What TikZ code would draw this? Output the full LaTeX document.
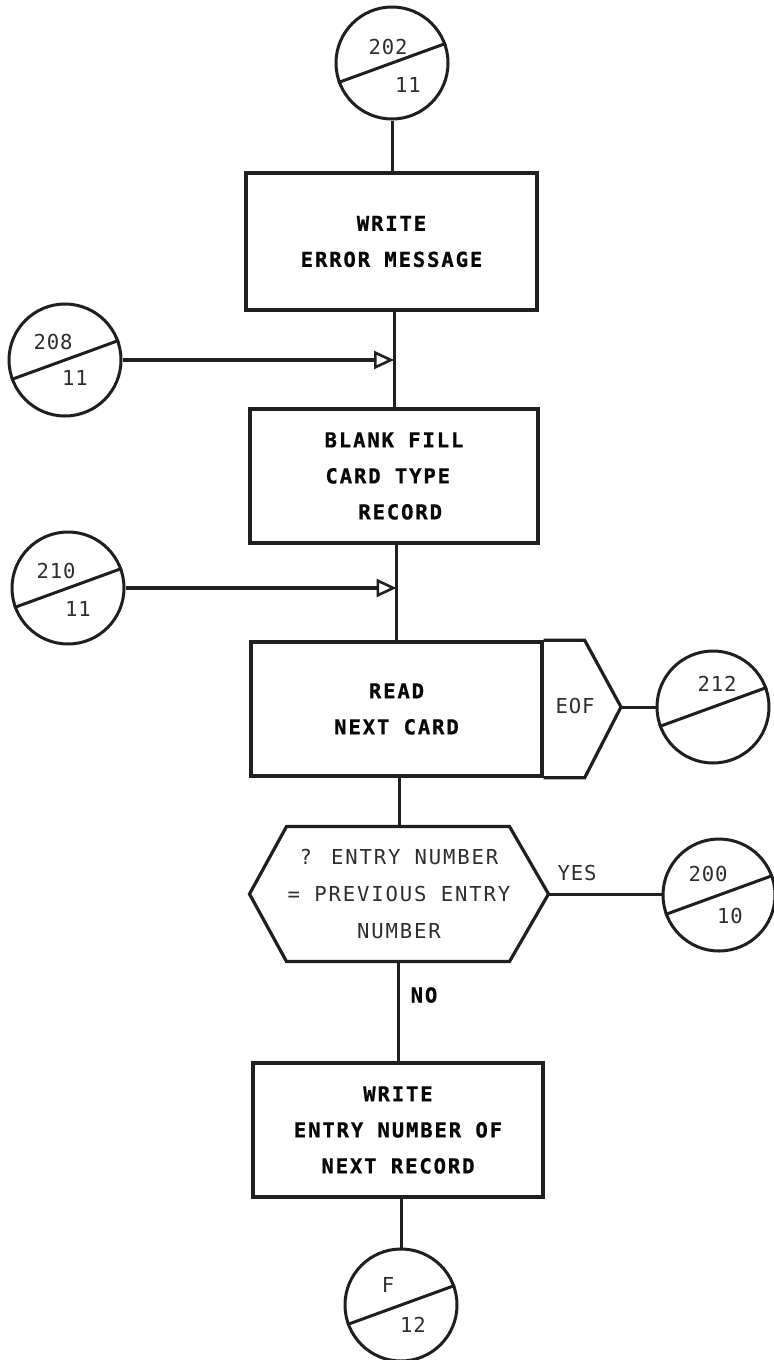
\documentclass[tikz,border=0pt]{standalone}
\usepackage{fontspec}
\usetikzlibrary{arrows.meta,calc}
\newfontfamily\fcmono[LetterSpace=9]{DejaVu Sans Mono}
\newfontfamily\fcbold[LetterSpace=9,FakeBold=0.8]{DejaVu Sans Mono Bold}
\newfontfamily\fcnum[LetterSpace=4]{DejaVu Sans Mono}
\definecolor{ink}{gray}{0.12}
\definecolor{txt}{gray}{0.03}
\definecolor{txtl}{gray}{0.18}
\tikzset{
  procbox/.style={draw=ink, line width=1.7pt, rectangle, inner sep=0pt, align=center, text=txt,
    font={\fcbold\fontsize{10.3pt}{18pt}\selectfont}},
  hexarea/.style={rectangle, inner sep=0pt, align=center, text=txtl,
    font={\fcmono\fontsize{10.3pt}{18.5pt}\selectfont}},
  conn/.style={draw=ink, circle, minimum size=56pt, inner sep=0pt},
  cnum/.style={inner sep=0pt, text=txtl, font={\fcnum\fontsize{10.3pt}{12pt}\selectfont}},
  flag/.style={inner sep=0pt, text=txtl, font={\fcnum\fontsize{10.3pt}{12pt}\selectfont}},
  flagb/.style={inner sep=0pt, text=txt, font={\fcbold\fontsize{10.3pt}{12pt}\selectfont}},
  entry/.style={line width=1.7pt, -{Triangle[open, length=10pt, width=9pt, line width=1.3pt]}},
}
\begin{document}
\begin{tikzpicture}[x=0.5pt, y=-0.5pt, line width=1.5pt, color=ink]
\fill[white] (0,0) rectangle (774,1360);
\path[use as bounding box] (0,0) rectangle (774,1360);

% connectors (off-page circles)
\node[conn] (c202) at (392,63) {};
\node[conn] (c208) at (65,360) {};
\node[conn] (c210) at (68,588) {};
\node[conn] (c212) at (713,707) {};
\node[conn] (c200) at (719,895) {};
\node[conn] (cF)   at (401,1305) {};
\foreach \c in {c202,c208,c210,c212,c200,cF} {\draw (\c.200) -- (\c.20);}

\node[cnum] (t202) at ($(c202)+(-4,-16)$) {202};
\node[cnum] (b202) at ($(c202)+(16,22)$) {11};
\node[cnum] (t208) at ($(c208)+(-12,-18)$) {208};
\node[cnum] (b208) at ($(c208)+(10,18)$) {11};
\node[cnum] (t210) at ($(c210)+(-12,-17)$) {210};
\node[cnum] (b210) at ($(c210)+(10,21)$) {11};
\node[cnum] (t212) at ($(c212)+(4,-23)$) {212};
\node[cnum] (t200) at ($(c200)+(-11,-21)$) {200};
\node[cnum] (b200) at ($(c200)+(11,21)$) {10};
\node[cnum] (tF)   at ($(cF)+(-13,-20)$) {F};
\node[cnum] (bF)   at ($(cF)+(12,20)$) {12};

% process boxes
\node[procbox, minimum width=145.5pt, minimum height=68.5pt] (box1) at (391.5,241.5)
  {WRITE\\ERROR MESSAGE};
\node[procbox, minimum width=144pt, minimum height=67pt] (box2) at (394,476)
  {BLANK FILL\\CARD TYPE\hphantom{X}\\\hphantom{X}RECORD};
\node[procbox, minimum width=145.5pt, minimum height=67pt] (box3) at (396.5,709)
  {READ\\NEXT CARD};
\node[procbox, minimum width=145pt, minimum height=67pt] (box4) at (398,1130)
  {WRITE\\ENTRY NUMBER OF\\NEXT RECORD};

% EOF exit
\coordinate (eofpt) at (621,707);
\draw[line width=1.6pt, line join=miter] (box3.north east) -- ($(box3.north east)+(41,0)$) -- (eofpt)
  -- ($(box3.south east)+(41,0)$) -- (box3.south east);
\node[flag] (eof) at (575,706) {EOF};
\draw (eofpt) -- (c212.west);

% decision hexagon
\node[hexarea, minimum width=148pt, minimum height=66pt] (hex) at (399,894)
  {? ENTRY NUMBER\\= PREVIOUS ENTRY\\NUMBER};
\draw[line width=1.6pt] (hex.west) -- ($(hex.north west)+(37,0)$) -- ($(hex.north east)+(-39,0)$)
  -- (hex.east) -- ($(hex.south east)+(-39,0)$) -- ($(hex.south west)+(37,0)$) -- cycle;
\node[flag] (yes) at (577,873) {YES};
\draw (hex.east) -- (hex.east -| c200.west);
\node[flagb] (no) at (424,995) {NO};

% main flow (vertical segments)
\draw (c202.south) -- (c202.south |- box1.north);
\draw (box2.north |- box1.south) -- (box2.north);
\draw (box3.north |- box2.south) -- (box3.north);
\draw (hex.north |- box3.south) -- (hex.north);
\draw (box4.north |- hex.south) -- (box4.north);
\draw (cF.north |- box4.south) -- (cF.north);

% entries
\draw[entry] (c208.east) -- (c208.east -| box2.north);
\draw[entry] (c210.east) -- (c210.east -| box3.north);
\end{tikzpicture}
\end{document}
